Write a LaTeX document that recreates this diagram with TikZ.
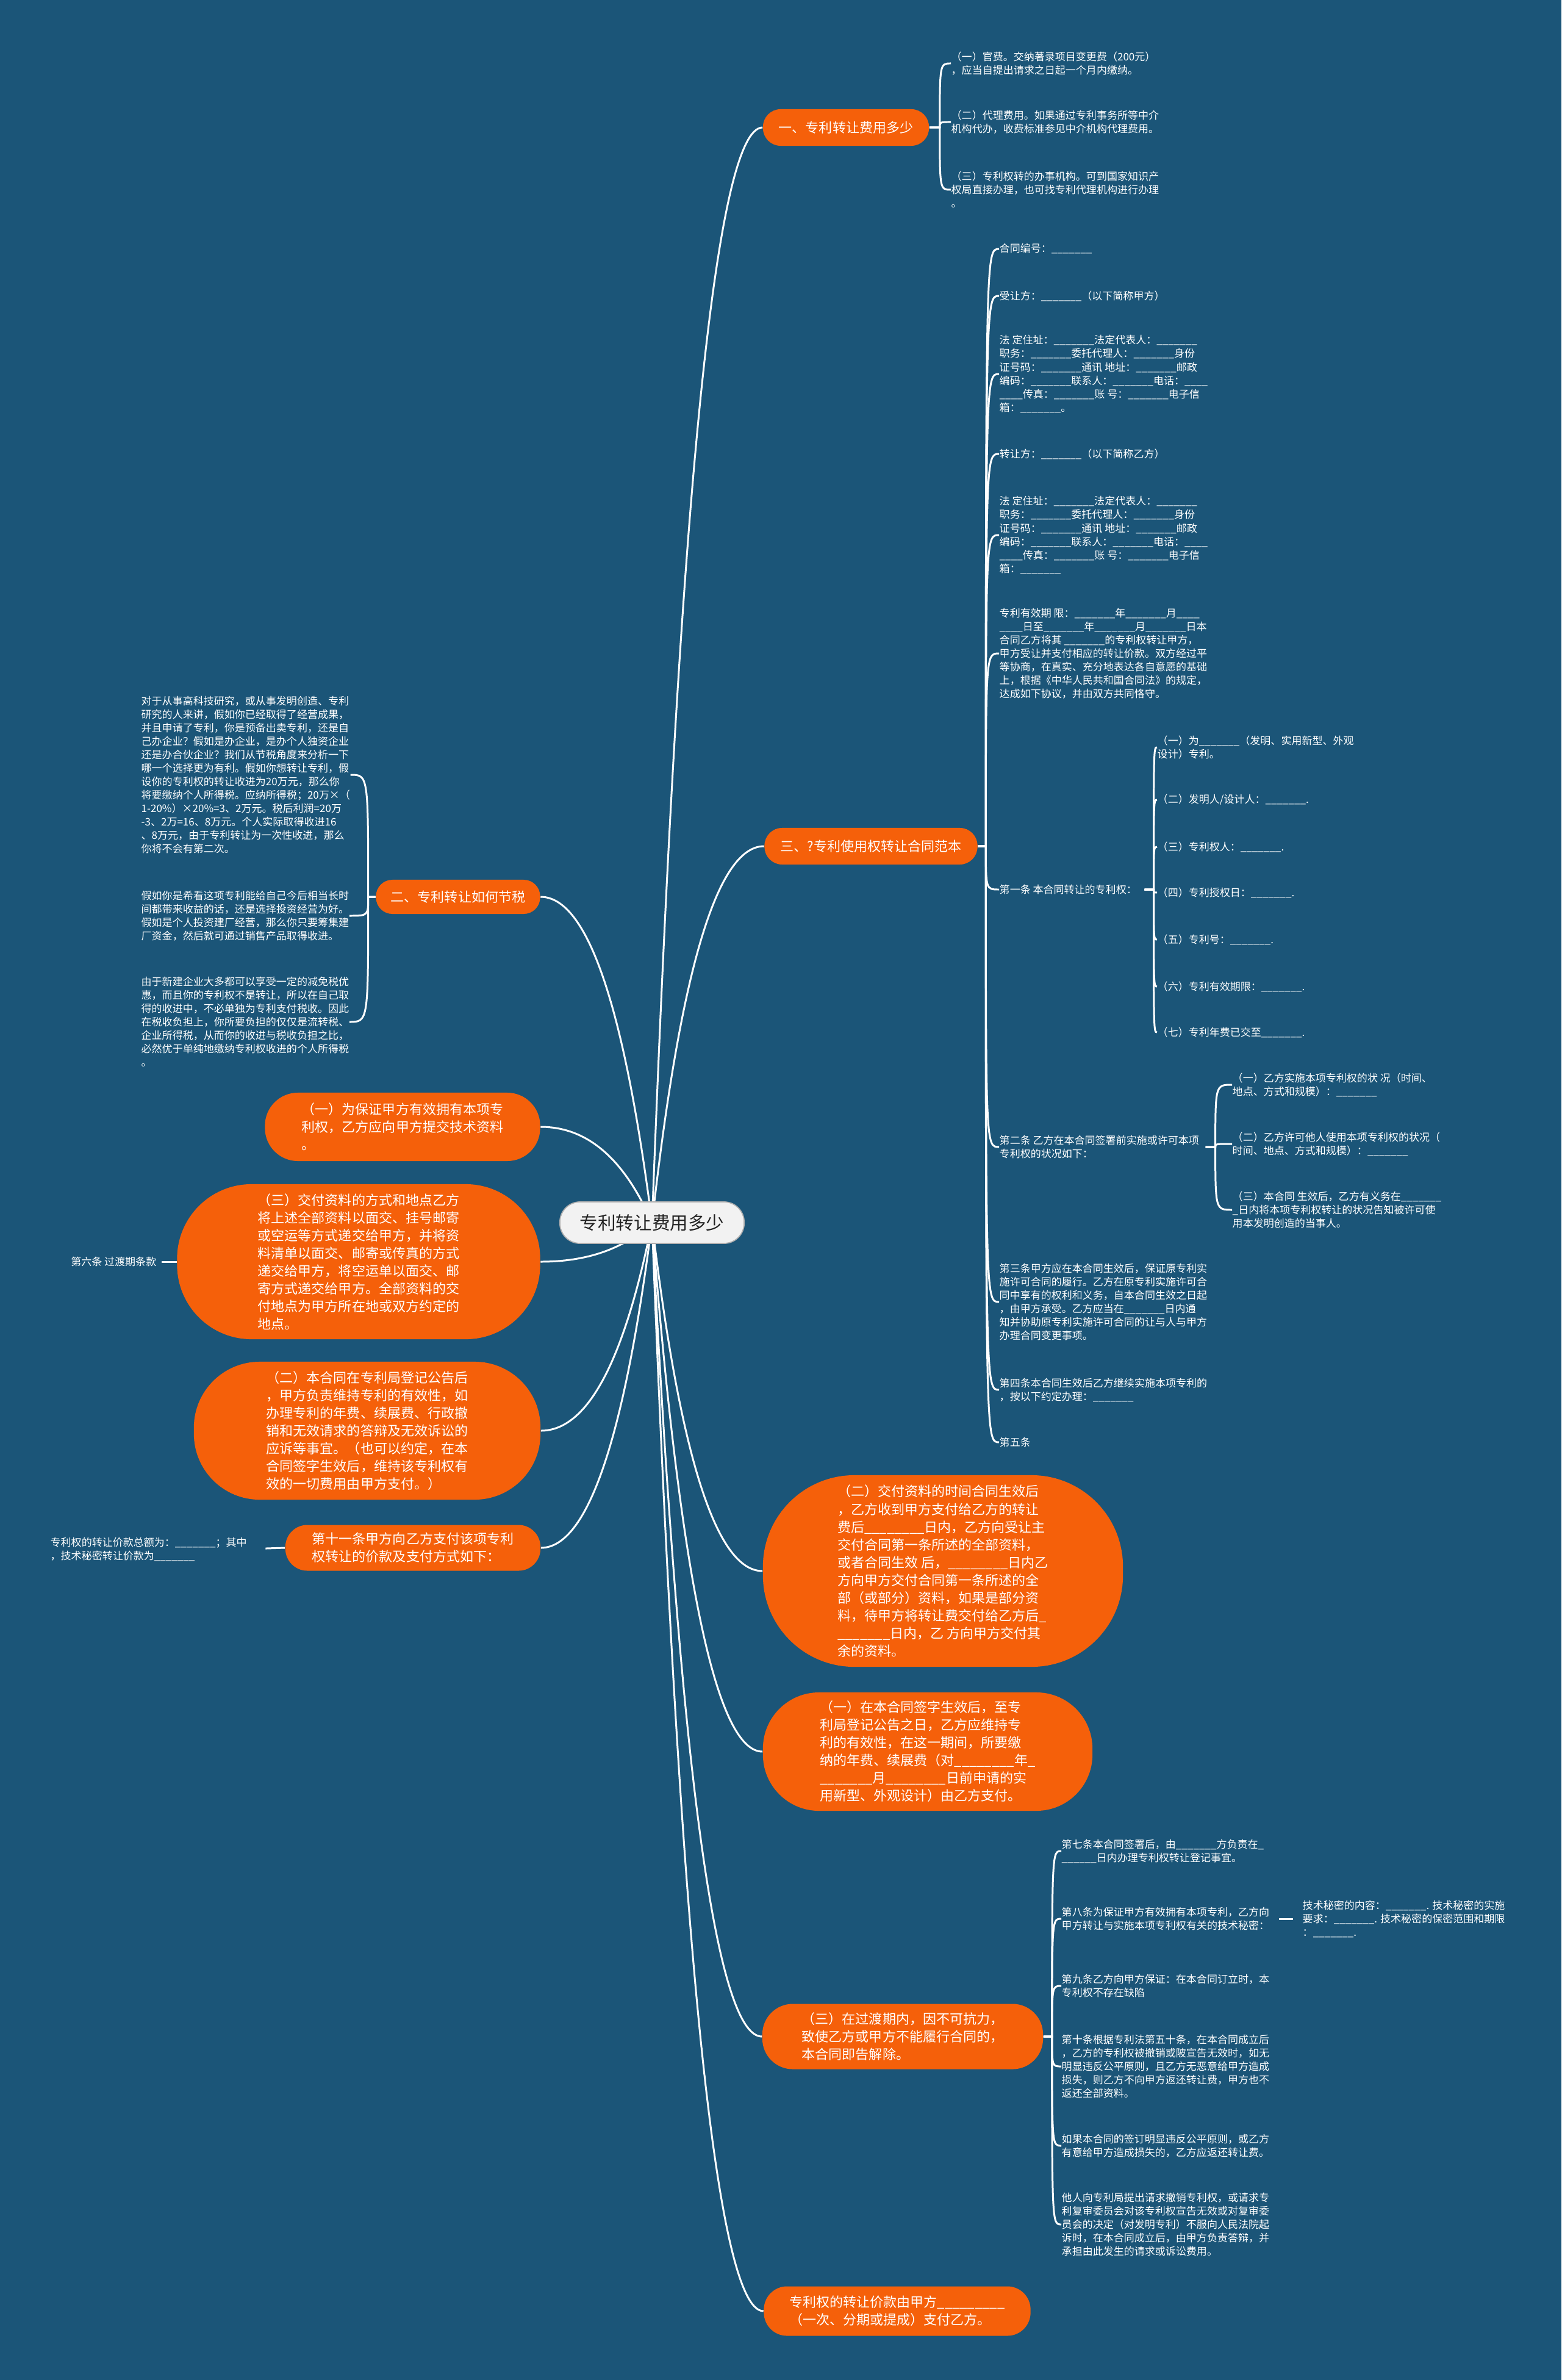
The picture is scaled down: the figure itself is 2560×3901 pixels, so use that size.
\documentclass[tikz,border=0pt]{standalone}
\usepackage{fontspec}
\setmainfont{Noto Sans CJK SC}
\usetikzlibrary{calc,backgrounds}
\definecolor{bgblue}{RGB}{27,85,120}
\definecolor{orng}{RGB}{245,96,10}
\definecolor{rootfill}{RGB}{242,242,242}
\definecolor{rootline}{RGB}{175,175,175}
\definecolor{roottext}{RGB}{34,34,34}
\newcommand\blk{\_\_\_\_\_\_\_}
\newcommand\blkk{\_\_\_\_\_\_\_\_}
\newcommand\blkkk{\_\_\_\_\_\_\_\_\_}
\tikzset{
 leaf/.style={text=white,font=\fontsize{4.84pt}{6.26pt}\selectfont,align=left,inner sep=0pt,anchor=west},
 obox/.style={fill=orng,text=white,font=\fontsize{6.26pt}{8.25pt}\selectfont,align=left,inner sep=0pt},
 rootbox/.style={fill=rootfill,draw=rootline,line width=0.5pt,text=roottext,font=\fontsize{8.4pt}{10pt}\selectfont,minimum width=3.02cm,minimum height=0.68cm,rounded corners=0.33cm,inner sep=0pt},
 link/.style={draw=white,line width=0.85pt},
 rbr/.style={to path={let \p1=(\tikztostart),\p2=(\tikztotarget) in -- ({\x1+#1*0.28453pt},\y1) .. controls ({\x1+#1*0.28453pt},\y2) .. (\p2)}},
 lbr/.style={to path={let \p1=(\tikztostart),\p2=(\tikztotarget) in -- ({\x1-#1*0.28453pt},\y1) .. controls ({\x1-#1*0.28453pt},\y2) .. (\p2)}},
 rootcurve/.style={to path={let \p1=(\tikztostart),\p2=(\tikztotarget) in .. controls ({\x1+0.25*(\x2-\x1)},{\y1+0.667*(\y2-\y1)}) and ({\x2-0.42*(\x2-\x1)},\y2) .. (\p2)}}
}
\begin{document}
\begin{tikzpicture}[x=0.01cm,y=-0.01cm]
\useasboundingbox (0,0) rectangle (2560,3901);

% root
\node[rootbox] (root) at (1069,2004) {专利转让费用多少};

% right branches
\node[obox,align=center,minimum width=2.72cm,minimum height=0.6cm,rounded corners=0.29cm] (R1) at (1387,209) {一、专利转让费用多少};
\node[obox,align=center,minimum width=3.49cm,minimum height=0.6cm,rounded corners=0.29cm] (R2) at (1428,1387) {三、?专利使用权转让合同范本};
\node[obox,minimum width=5.9cm,minimum height=3.14cm,rounded corners=1.5cm] (R3) at (1546,2575) {（二）交付资料的时间合同生效后\\，乙方收到甲方支付给乙方的转让\\费后\blkk{}日内，乙方向受让主\\交付合同第一条所述的全部资料，\\或者合同生效 后，\blkk{}日内乙\\方向甲方交付合同第一条所述的全\\部（或部分）资料，如果是部分资\\料，待甲方将转让费交付给乙方后\_\\\blk{}日内，乙 方向甲方交付其\\余的资料。};
\node[obox,minimum width=5.4cm,minimum height=1.94cm,rounded corners=0.92cm] (R4) at (1521,2871) {（一）在本合同签字生效后，至专\\利局登记公告之日，乙方应维持专\\利的有效性，在这一期间，所要缴\\纳的年费、续展费（对\blkk{}年\_\\\blk{}月\blkk{}日前申请的实\\用新型、外观设计）由乙方支付。};
\node[obox,minimum width=4.6cm,minimum height=1.07cm,rounded corners=0.5cm] (R5) at (1480,3338) {（三）在过渡期内，因不可抗力，\\致使乙方或甲方不能履行合同的，\\本合同即告解除。};
\node[obox,minimum width=4.37cm,minimum height=0.81cm,rounded corners=0.38cm] (R6) at (1471,3788) {专利权的转让价款由甲方\blkkk{}\\（一次、分期或提成）支付乙方。};

% left branches
\node[obox,align=center,minimum width=2.69cm,minimum height=0.56cm,rounded corners=0.27cm] (L1) at (751,1470) {二、专利转让如何节税};
\node[obox,minimum width=4.51cm,minimum height=1.12cm,rounded corners=0.54cm] (L2) at (660,1847) {（一）为保证甲方有效拥有本项专\\利权，乙方应向甲方提交技术资料\\。};
\node[obox,minimum width=5.95cm,minimum height=2.54cm,rounded corners=1.22cm] (L3) at (588,2068) {（三）交付资料的方式和地点乙方\\将上述全部资料以面交、挂号邮寄\\或空运等方式递交给甲方，并将资\\料清单以面交、邮寄或传真的方式\\递交给甲方，将空运单以面交、邮\\寄方式递交给甲方。全部资料的交\\付地点为甲方所在地或双方约定的\\地点。};
\node[obox,minimum width=5.68cm,minimum height=2.26cm,rounded corners=1.08cm] (L4) at (602,2345) {（二）本合同在专利局登记公告后\\，甲方负责维持专利的有效性，如\\办理专利的年费、续展费、行政撤\\销和无效请求的答辩及无效诉讼的\\应诉等事宜。（也可以约定，在本\\合同签字生效后，维持该专利权有\\效的一切费用由甲方支付。）};
\node[obox,minimum width=4.18cm,minimum height=0.75cm,rounded corners=0.36cm] (L5) at (677,2537) {第十一条甲方向乙方支付该项专利\\权转让的价款及支付方式如下：};

% leaves of R1
\node[leaf] (a1) at (1559,104) {（一）官费。交纳著录项目变更费（200元）\\，应当自提出请求之日起一个月内缴纳。};
\node[leaf] (a2) at (1559,200) {（二）代理费用。如果通过专利事务所等中介\\机构代办，收费标准参见中介机构代理费用。};
\node[leaf] (a3) at (1559,311) {（三）专利权转的办事机构。可到国家知识产\\权局直接办理，也可找专利代理机构进行办理\\。};

% leaves of R2
\node[leaf] (b1) at (1638,408) {合同编号：\blk{}};
\node[leaf] (b2) at (1638,485) {受让方：\blk{}（以下简称甲方）};
\node[leaf] (b3) at (1638,613) {法 定住址：\blk{}法定代表人：\blk{}\\职务：\blk{}委托代理人：\blk{}身份\\证号码：\blk{}通讯 地址：\blk{}邮政\\编码：\blk{}联系人：\blk{}电话：\_\_\_\_\\\_\_\_\_传真：\blk{}账 号：\blk{}电子信\\箱：\blk{}。};
\node[leaf] (b4) at (1638,744) {转让方：\blk{}（以下简称乙方）};
\node[leaf] (b5) at (1638,877) {法 定住址：\blk{}法定代表人：\blk{}\\职务：\blk{}委托代理人：\blk{}身份\\证号码：\blk{}通讯 地址：\blk{}邮政\\编码：\blk{}联系人：\blk{}电话：\_\_\_\_\\\_\_\_\_传真：\blk{}账 号：\blk{}电子信\\箱：\blk{}};
\node[leaf] (b6) at (1638,1071) {专利有效期 限：\blk{}年\blk{}月\_\_\_\_\\\_\_\_\_日至\blk{}年\blk{}月\blk{}日本\\合同乙方将其 \blk{}的专利权转让甲方，\\甲方受让并支付相应的转让价款。双方经过平\\等协商，在真实、充分地表达各自意愿的基础\\上，根据《中华人民共和国合同法》的规定，\\达成如下协议，并由双方共同恪守。};
\node[leaf] (b7) at (1638,1458) {第一条 本合同转让的专利权：};
\node[leaf] (b8) at (1638,1880) {第二条 乙方在本合同签署前实施或许可本项\\专利权的状况如下：};
\node[leaf] (b9) at (1638,2134) {第三条甲方应在本合同生效后，保证原专利实\\施许可合同的履行。乙方在原专利实施许可合\\同中享有的权利和义务，自本合同生效之日起\\，由甲方承受。乙方应当在\blk{}日内通\\知并协助原专利实施许可合同的让与人与甲方\\办理合同变更事项。};
\node[leaf] (b10) at (1638,2278) {第四条本合同生效后乙方继续实施本项专利的\\，按以下约定办理：\blk{}};
\node[leaf] (b11) at (1638,2364) {第五条};

% leaves of b7
\node[leaf] (c1) at (1897,1225) {（一）为\blk{}（发明、实用新型、外观\\设计）专利。};
\node[leaf] (c2) at (1897,1311) {（二）发明人/设计人：\blk{}.};
\node[leaf] (c3) at (1897,1388) {（三）专利权人：\blk{}.};
\node[leaf] (c4) at (1897,1463) {（四）专利授权日：\blk{}.};
\node[leaf] (c5) at (1897,1540) {（五）专利号：\blk{}.};
\node[leaf] (c6) at (1897,1617) {（六）专利有效期限：\blk{}.};
\node[leaf] (c7) at (1897,1692) {（七）专利年费已交至\blk{}.};

% leaves of b8
\node[leaf] (d1) at (2020,1778) {（一）乙方实施本项专利权的状 况（时间、\\地点、方式和规模）：\blk{}};
\node[leaf] (d2) at (2020,1875) {（二）乙方许可他人使用本项专利权的状况（\\时间、地点、方式和规模）：\blk{}};
\node[leaf] (d3) at (2020,1983) {（三）本合同 生效后，乙方有义务在\blk{}\\\_日内将本项专利权转让的状况告知被许可使\\用本发明创造的当事人。};

% leaves of R5
\node[leaf] (e1) at (1740,3034) {第七条本合同签署后，由\blk{}方负责在\_\\\_\_\_\_\_\_日内办理专利权转让登记事宜。};
\node[leaf] (e2) at (1740,3145) {第八条为保证甲方有效拥有本项专利，乙方向\\甲方转让与实施本项专利权有关的技术秘密：};
\node[leaf] (e2a) at (2135,3145) {技术秘密的内容：\blk{}. 技术秘密的实施\\要求：\blk{}. 技术秘密的保密范围和期限\\：\blk{}.};
\node[leaf] (e3) at (1740,3255) {第九条乙方向甲方保证：在本合同订立时，本\\专利权不存在缺陷};
\node[leaf] (e4) at (1740,3387) {第十条根据专利法第五十条，在本合同成立后\\，乙方的专利权被撤销或陂宣告无效时，如无\\明显违反公平原则，且乙方无恶意给甲方造成\\损失，则乙方不向甲方返还转让费，甲方也不\\返还全部资料。};
\node[leaf] (e5) at (1740,3517) {如果本合同的签订明显违反公平原则，或乙方\\有意给甲方造成损失的，乙方应返还转让费。};
\node[leaf] (e6) at (1740,3646) {他人向专利局提出请求撤销专利权，或请求专\\利复审委员会对该专利权宣告无效或对复审委\\员会的决定（对发明专利）不服向人民法院起\\诉时，在本合同成立后，由甲方负责答辩，并\\承担由此发生的请求或诉讼费用。};

% leaves of L1
\node[leaf] (f1) at (231,1270) {对于从事高科技研究，或从事发明创造、专利\\研究的人来讲，假如你已经取得了经营成果，\\并且申请了专利，你是预备出卖专利，还是自\\己办企业？假如是办企业，是办个人独资企业\\还是办合伙企业？我们从节税角度来分析一下\\哪一个选择更为有利。假如你想转让专利，假\\设你的专利权的转让收进为20万元，那么你\\将要缴纳个人所得税。应纳所得税；20万×（\\1-20\%）×20\%=3、2万元。税后利润=20万\\-3、2万=16、8万元。个人实际取得收进16\\、8万元，由于专利转让为一次性收进，那么\\你将不会有第二次。};
\node[leaf] (f2) at (231,1501) {假如你是希看这项专利能给自己今后相当长时\\间都带来收益的话，还是选择投资经营为好。\\假如是个人投资建厂经营，那么你只要筹集建\\厂资金，然后就可通过销售产品取得收进。};
\node[leaf] (f3) at (231,1675) {由于新建企业大多都可以享受一定的减免税优\\惠，而且你的专利权不是转让，所以在自己取\\得的收进中，不必单独为专利支付税收。因此\\在税收负担上，你所要负担的仅仅是流转税、\\企业所得税，从而你的收进与税收负担之比，\\必然优于单纯地缴纳专利权收进的个人所得税\\。};

\node[leaf,anchor=east] (g1) at (257,2068) {第六条 过渡期条款};
\node[leaf] (h1) at (82,2539) {专利权的转让价款总额为：\blk{}；其中\\，技术秘密转让价款为\blk{}};

\begin{pgfonlayer}{background}
\fill[bgblue] (0,0) rectangle (2560,3901);
% root links
\foreach \nd in {R1,R2,R3,R4,R5,R6} \draw[link] (root.center) to[rootcurve] (\nd.west);
\foreach \nd in {L1,L2,L3,L4,L5} \draw[link] (root.center) to[rootcurve] (\nd.east);
% branch links
\foreach \nd in {a1,a2,a3} \draw[link] (R1.east) to[rbr=17] (\nd.west);
\foreach \nd in {b1,b2,b3,b4,b5,b6,b7,b8,b9,b10,b11} \draw[link] (R2.east) to[rbr=13] (\nd.west);
\foreach \nd in {c1,c2,c3,c4,c5,c6,c7} \draw[link,shorten <=0.12cm] (b7.east) to[rbr=27] (\nd.west);
\foreach \nd in {d1,d2,d3} \draw[link,shorten <=0.1cm] (b8.east) to[rbr=26] (\nd.west);
\foreach \nd in {e1,e2,e3,e4,e5,e6} \draw[link] (R5.east) to[rbr=14] (\nd.west);
\draw[link,shorten <=0.15cm,shorten >=0.15cm] (e2.east) -- (e2a.west);
\foreach \nd in {f1,f2,f3} \draw[link] (L1.west) to[lbr=12] (\nd.east);
\draw[link,shorten >=0.08cm] (L3.west) -- (g1.east);
\draw[link,shorten >=0.3cm] (L5.west) -- (h1.east);
\end{pgfonlayer}
\end{tikzpicture}
\end{document}
